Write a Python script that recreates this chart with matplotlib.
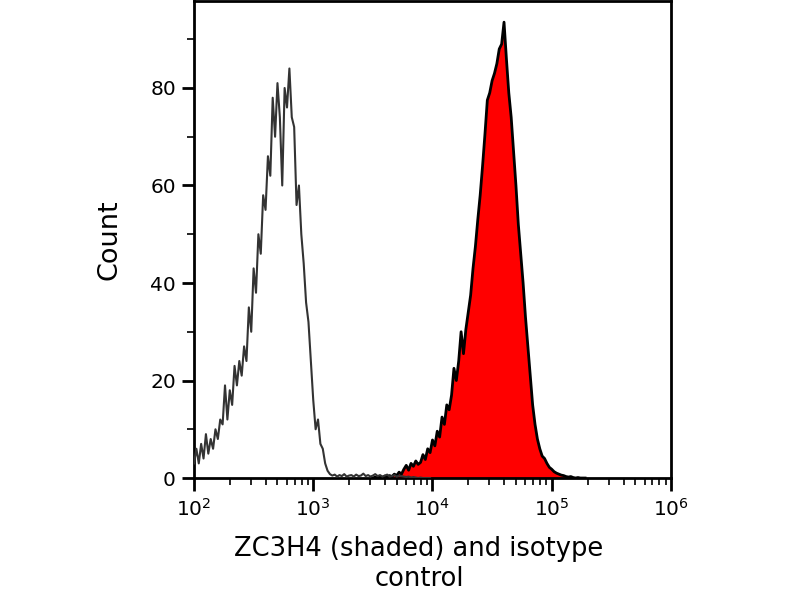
import numpy as np
import matplotlib
matplotlib.use("Agg")
import matplotlib.pyplot as plt
from matplotlib.ticker import LogLocator, MultipleLocator, FixedFormatter

# histogram channels, spaced 0.02 decades
step = 0.02

# isotype control (outline), channels from 10^2.00
iso_start = 2.00
iso_counts = [
    3, 6, 3, 7, 4, 9, 5, 8, 6, 10,
    8, 12, 11, 19, 12, 18, 15, 23, 19, 24,
    21, 27, 24, 35, 30, 43, 38, 50, 46, 58,
    55, 66, 62, 78, 70, 81, 74, 60, 80, 76,
    84, 74, 72, 56, 60, 50, 44, 36, 32, 24,
    16, 10, 12, 7, 6, 3, 1.5, 0.8, 0.5, 0.7,
    0.3, 0.6, 0.4, 0.8, 0.3, 0.5, 0.6, 0.3, 0.7, 0.4,
    0.5, 0.9, 0.4, 0.6, 0.3, 0.5, 0.8, 0.4, 0.6, 0.3,
    0.5, 0.7, 0.3, 0.4, 0.6, 0.3, 0.5, 0.4, 0.3, 0.2,
    0.3, 0.1, 0.2, 0.1, 0.0, 0.1, 0.0, 0.0, 0.0, 0.0,
]

# ZC3H4 stained (shaded), channels from 10^3.50
red_start = 3.50
red_counts = [
    0.0, 0.2, 0.0, 0.3, 0.1, 0.4, 0.2, 0.5, 0.3, 0.8,
    0.5, 1.2, 0.8, 1.8, 2.6, 1.6, 3.0, 2.4, 3.5, 2.8,
    3.2, 4.8, 3.8, 6.0, 5.2, 7.8, 6.6, 9.6, 8.4, 12.5,
    11.0, 15.0, 14.0, 17.0, 22.5, 20.0, 24.0, 30.0, 25.5, 30.5,
    34.0, 37.5, 43.0, 47.5, 53.0, 58.0, 64.0, 70.5, 77.5, 79.0,
    81.5, 83.0, 85.0, 88.0, 89.0, 93.5, 86.0, 79.0, 74.0, 67.0,
    60.0, 52.0, 46.0, 40.0, 33.0, 27.0, 21.0, 15.0, 11.0, 8.0,
    6.0, 4.5, 4.0, 3.0, 2.2, 1.8, 1.3, 1.0, 0.8, 0.6,
    0.5, 0.3, 0.2, 0.3, 0.1, 0.0, 0.1, 0.0, 0.0, 0.0,
]

xtick_labels = ["$10^2$", "$10^3$", "$10^4$", "$10^5$", "$10^6$"]

iso_x = 10 ** (iso_start + step * np.arange(len(iso_counts)))
red_x = 10 ** (red_start + step * np.arange(len(red_counts)))

fig = plt.figure(figsize=(8, 6), dpi=100)
ax = fig.add_axes([0.2425, 0.2033, 0.5962, 0.7947])

ax.fill_between(red_x, red_counts, 0, color="#ff0000", lw=0, zorder=2)
ax.plot(red_x, red_counts, color="black", lw=2.0, zorder=3)
ax.plot(iso_x, iso_counts, color="#333333", lw=1.5, zorder=4)

ax.set_xscale("log")
ax.set_xlim(1e2, 1e6)
ax.set_ylim(0, 97.8)

ax.set_xticks([1e2, 1e3, 1e4, 1e5, 1e6])
ax.xaxis.set_minor_locator(LogLocator(base=10, subs=np.arange(2, 10), numticks=50))
ax.xaxis.set_major_formatter(FixedFormatter(xtick_labels))
ax.yaxis.set_major_locator(MultipleLocator(20))
ax.yaxis.set_minor_locator(MultipleLocator(10))

ax.tick_params(which="major", direction="out", length=9, width=2, labelsize=14.5, color="black")
ax.tick_params(which="minor", direction="out", length=5, width=1.2, color="black")
ax.tick_params(axis="x", which="major", pad=5)
ax.tick_params(axis="y", which="major", pad=4)

for s in ax.spines.values():
    s.set_linewidth(2)
    s.set_color("black")

ax.set_ylabel("Count", fontsize=19.5)
ax.yaxis.set_label_coords((122 - 194) / 477, 0.5)
ax.set_xlabel("ZC3H4 (shaded) and isotype\ncontrol", fontsize=18.5, linespacing=1.2)
ax.xaxis.set_label_coords((419 - 194) / 477, -0.122)
ax.xaxis.label.set_va("top")

fig.savefig("out.png", dpi=100)
